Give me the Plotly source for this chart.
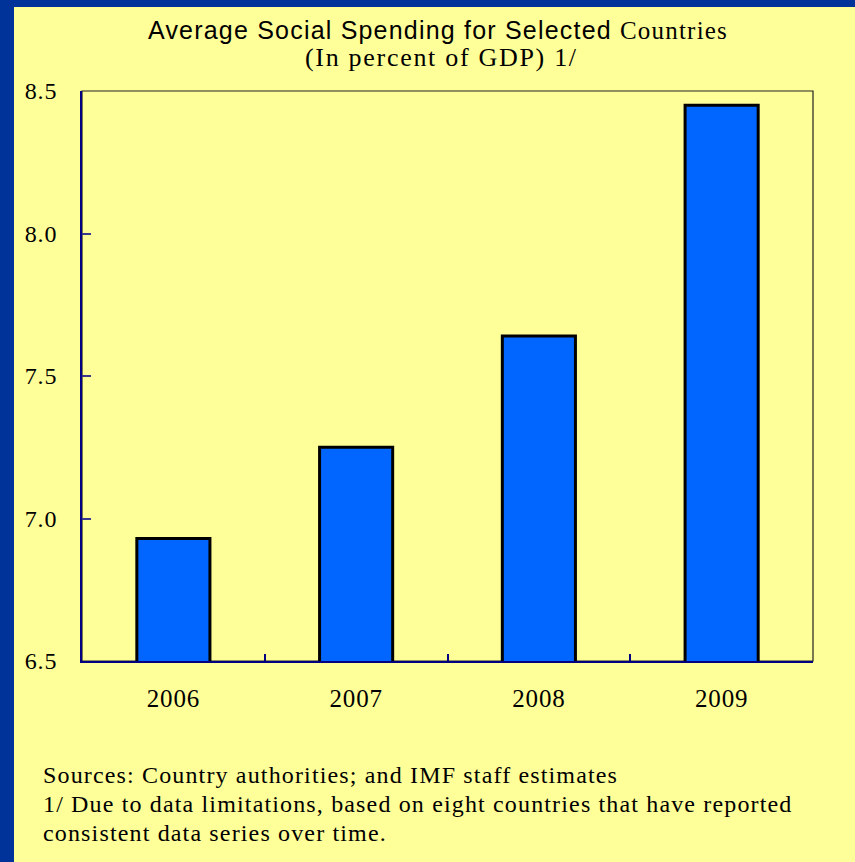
import plotly.graph_objects as go

# Average social spending, percent of GDP
years = ["2006", "2007", "2008", "2009"]
spending = [6.93, 7.25, 7.64, 8.45]
y_ticks = [6.5, 7.0, 7.5, 8.0, 8.5]
notes = [
    "Sources: Country authorities; and IMF staff estimates",
    "1/ Due to data limitations, based on eight countries that have reported",
    "consistent data series over time.",
]

YELLOW = "#FFFF99"
FRAME_BLUE = "#003399"
BAR_BLUE = "#0066FF"
NAVY = "#000080"
SERIF = "Liberation Serif, Times New Roman, serif"
SANS = "Liberation Sans, Arial, sans-serif"

W, H = 855, 862
M_L, M_R, M_T, M_B = 82, 42, 91, 201
PW, PH = W - M_L - M_R, H - M_T - M_B


def px_x(px):
    return (px - M_L) / PW


def px_y(py):
    return (H - M_B - py) / PH


def spaced(text, px):
    return f"<span style='letter-spacing:{px}px'>{text}</span>"


fig = go.Figure(
    go.Bar(
        x=years,
        y=spending,
        width=0.4,
        marker=dict(color=BAR_BLUE, line=dict(color="black", width=3)),
        hoverinfo="x+y",
    )
)

fig.update_layout(
    width=W,
    height=H,
    margin=dict(l=M_L, r=M_R, t=M_T, b=M_B, pad=0),
    paper_bgcolor=YELLOW,
    plot_bgcolor=YELLOW,
    showlegend=False,
)

fig.update_xaxes(
    type="category",
    tickvals=years,
    ticktext=[spaced(y, 0.8) for y in years],
    tickson="boundaries",
    ticks="inside",
    ticklen=7,
    tickwidth=1.5,
    tickcolor=NAVY,
    showline=True,
    linecolor=NAVY,
    linewidth=2,
    showgrid=False,
    zeroline=False,
    tickfont=dict(family=SERIF, size=25, color="black"),
    ticklabelstandoff=14,
)

fig.update_yaxes(
    range=[6.5, 8.5],
    tickvals=y_ticks,
    ticktext=[spaced(f"{v:.1f}", 0.8) for v in y_ticks],
    ticks="inside",
    ticklen=9,
    tickwidth=1.5,
    tickcolor="#3a3a8a",
    showline=True,
    linecolor=NAVY,
    linewidth=2,
    showgrid=False,
    zeroline=False,
    tickfont=dict(family=SERIF, size=24, color="black"),
    ticklabelstandoff=18,
)

shapes = [
    # thin frame around the plotting area (top and right edges)
    dict(type="rect", xref="paper", yref="paper", x0=0, x1=1, y0=0, y1=1,
         line=dict(color="#222222", width=1.2), layer="below"),
    # dark blue slide border on the left and top
    dict(type="rect", xref="paper", yref="paper",
         x0=px_x(0), x1=px_x(14), y0=px_y(H), y1=px_y(0),
         fillcolor=FRAME_BLUE, line=dict(width=0), layer="above"),
    dict(type="rect", xref="paper", yref="paper",
         x0=px_x(0), x1=px_x(W), y0=px_y(7), y1=px_y(0),
         fillcolor=FRAME_BLUE, line=dict(width=0), layer="above"),
]
fig.update_layout(shapes=shapes)

annotations = [
    dict(
        text=spaced("Average Social Spending for Selected "
                    f"<span style='font-family:{SERIF}'>Countries</span>", 1.2),
        xref="paper", yref="paper", x=px_x(437.5), y=px_y(30),
        xanchor="center", yanchor="middle", showarrow=False,
        font=dict(family=SANS, size=25, color="black"),
    ),
    dict(
        text=spaced("(In percent of GDP) 1/", 1.7),
        xref="paper", yref="paper", x=px_x(441.5), y=px_y(57),
        xanchor="center", yanchor="middle", showarrow=False,
        font=dict(family=SERIF, size=26, color="black"),
    ),
]
for i, line in enumerate(notes):
    annotations.append(dict(
        text=spaced(line, 1.15),
        xref="paper", yref="paper", x=px_x(41), y=px_y(775 + 29 * i),
        xanchor="left", yanchor="middle", align="left", showarrow=False,
        font=dict(family=SERIF, size=24, color="black"),
    ))
fig.update_layout(annotations=annotations)

fig.write_html("out.html")
